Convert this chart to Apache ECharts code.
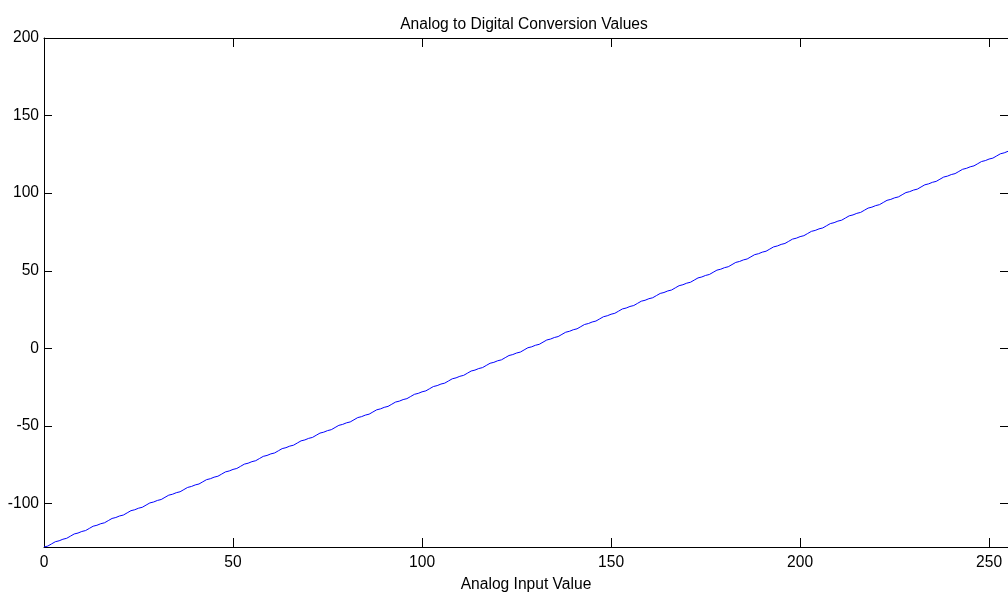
<!DOCTYPE html>
<html>
<head>
<meta charset="utf-8">
<script src="https://cdn.jsdelivr.net/npm/echarts@6/dist/echarts.min.js"></script>
<style>html,body{margin:0;padding:0;background:#fff}#c{width:1008px;height:598px}</style>
</head>
<body>
<div id="c"></div>
<script>
const chartTitle = 'Analog to Digital Conversion Values';
const xLabel = 'Analog Input Value';
const xTicks = [0, 50, 100, 150, 200, 250];
const yTicks = [-100, -50, 0, 50, 100, 150, 200];
// digital output value for analog input 0..255
const outputValues = [
  -128,-127.4,-126,-124.6,-124,-123,-122.4,-121,-119.6,-119,
  -118,-117.4,-116,-114.6,-114,-113,-112.4,-111,-109.6,-109,
  -108,-107.4,-106,-104.6,-104,-103,-102.4,-101,-99.6,-99,
  -98,-97.4,-96,-94.6,-94,-93,-92.4,-91,-89.6,-89,
  -88,-87.4,-86,-84.6,-84,-83,-82.4,-81,-79.6,-79,
  -78,-77.4,-76,-74.6,-74,-73,-72.4,-71,-69.6,-69,
  -68,-67.4,-66,-64.6,-64,-63,-62.4,-61,-59.6,-59,
  -58,-57.4,-56,-54.6,-54,-53,-52.4,-51,-49.6,-49,
  -48,-47.4,-46,-44.6,-44,-43,-42.4,-41,-39.6,-39,
  -38,-37.4,-36,-34.6,-34,-33,-32.4,-31,-29.6,-29,
  -28,-27.4,-26,-24.6,-24,-23,-22.4,-21,-19.6,-19,
  -18,-17.4,-16,-14.6,-14,-13,-12.4,-11,-9.6,-9,
  -8,-7.4,-6,-4.6,-4,-3,-2.4,-1,0.4,1,
  2,2.6,4,5.4,6,7,7.6,9,10.4,11,
  12,12.6,14,15.4,16,17,17.6,19,20.4,21,
  22,22.6,24,25.4,26,27,27.6,29,30.4,31,
  32,32.6,34,35.4,36,37,37.6,39,40.4,41,
  42,42.6,44,45.4,46,47,47.6,49,50.4,51,
  52,52.6,54,55.4,56,57,57.6,59,60.4,61,
  62,62.6,64,65.4,66,67,67.6,69,70.4,71,
  72,72.6,74,75.4,76,77,77.6,79,80.4,81,
  82,82.6,84,85.4,86,87,87.6,89,90.4,91,
  92,92.6,94,95.4,96,97,97.6,99,100.4,101,
  102,102.6,104,105.4,106,107,107.6,109,110.4,111,
  112,112.6,114,115.4,116,117,117.6,119,120.4,121,
  122,122.6,124,125.4,126,127
];

const FONT = "'Liberation Sans', Arial, sans-serif";
const FS = 15.6;
const chart = echarts.init(document.getElementById('c'), null, {renderer: 'canvas'});

function xAxisCfg(pos, showLabels) {
  return {
    type: 'value', position: pos, min: 0, max: 255,
    axisLine: {show: true, onZero: false, lineStyle: {color: '#000', width: 1}},
    axisTick: {show: true, inside: true, length: 9, customValues: xTicks, lineStyle: {color: '#000', width: 1}},
    axisLabel: {show: showLabels, customValues: xTicks, color: '#000', fontSize: FS, fontFamily: FONT, margin: 8},
    splitLine: {show: false},
    name: showLabels ? xLabel : '',
    nameLocation: 'middle', nameGap: 30,
    nameTextStyle: {color: '#000', fontSize: FS, fontFamily: FONT}
  };
}
function yAxisCfg(pos, showLabels) {
  return {
    type: 'value', position: pos, min: -128, max: 200,
    axisLine: {show: true, onZero: false, lineStyle: {color: '#000', width: 1}},
    axisTick: {show: true, inside: true, length: 8, customValues: yTicks, lineStyle: {color: '#000', width: 1}},
    axisLabel: {show: showLabels, customValues: yTicks, color: '#000', fontSize: FS, fontFamily: FONT, margin: 5},
    splitLine: {show: false}
  };
}

chart.setOption({
  animation: false,
  backgroundColor: '#fff',
  title: {
    text: chartTitle, left: 519, top: 12, textAlign: 'center',
    textStyle: {color: '#000', fontSize: FS, fontWeight: 'normal', fontFamily: FONT}
  },
  grid: {left: 44, top: 38, width: 965, height: 511, containLabel: false},
  xAxis: [xAxisCfg('bottom', true), xAxisCfg('top', false)],
  yAxis: [yAxisCfg('left', true), yAxisCfg('right', false)],
  series: [{
    type: 'line',
    xAxisIndex: 0, yAxisIndex: 0,
    data: outputValues.map((v, i) => [i, v]),
    showSymbol: false, symbol: 'none',
    sampling: 'none',
    lineStyle: {color: '#0000ff', width: 1},
    clip: true
  }]
});
</script>
</body>
</html>
